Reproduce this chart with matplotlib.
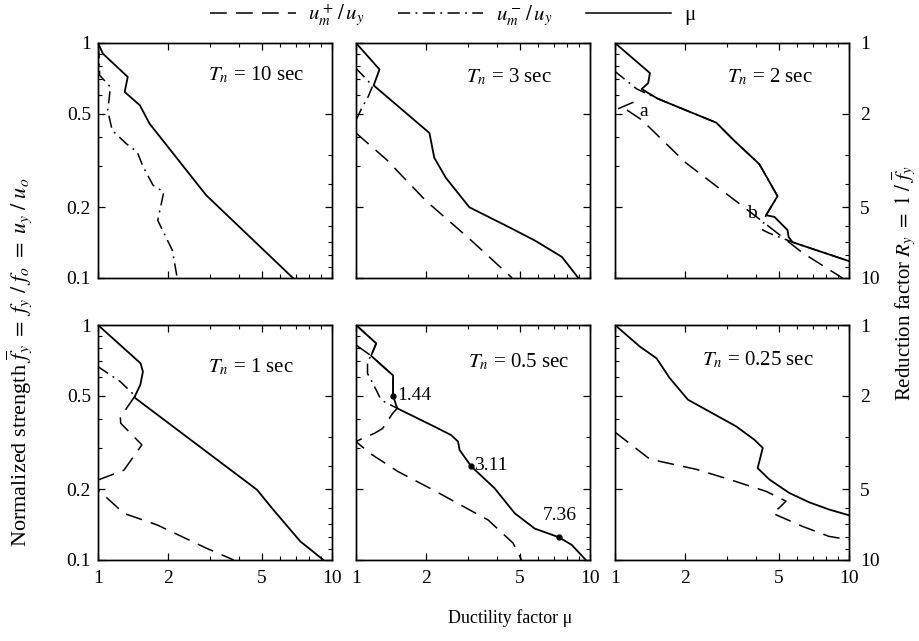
import matplotlib
matplotlib.use("Agg")
import matplotlib.pyplot as plt
from matplotlib.lines import Line2D

plt.rcParams['font.family'] = ['Liberation Serif', 'DejaVu Serif']
plt.rcParams['mathtext.fontset'] = 'stix'

# Data: x = ductility, y = normalized strength fy
# Tn = 10 sec
t10_mu_x = [1.0, 1.05, 1.34, 1.30, 1.51, 1.66, 2.90, 6.81]
t10_mu_y = [1.0, 0.90, 0.717, 0.619, 0.543, 0.454, 0.225, 0.1]
t10_neg_x = [1.0, 1.01, 1.016, 1.13, 1.114, 1.10, 1.15, 1.32, 1.47, 1.56, 1.72, 1.91, 1.80, 2.08, 2.18]
t10_neg_y = [0.97, 0.90, 0.729, 0.65, 0.570, 0.517, 0.425, 0.373, 0.344, 0.297, 0.248, 0.232, 0.176, 0.131, 0.1]
t10_pos_x = []
t10_pos_y = []

# Tn = 3 sec
t3_mu_x = [1.0, 1.26, 1.19, 2.06, 2.16, 2.42, 3.05, 4.65, 5.84, 7.58, 8.92]
t3_mu_y = [1.0, 0.772, 0.66, 0.414, 0.325, 0.267, 0.20, 0.162, 0.144, 0.123, 0.1]
t3_neg_x = [1.0, 1.13, 1.177, 1.13, 1.06, 1.0]
t3_neg_y = [0.78, 0.687, 0.655, 0.594, 0.53, 0.47]
t3_pos_x = [1.0, 1.35, 1.99, 3.05, 4.65]
t3_pos_y = [0.414, 0.319, 0.213, 0.147, 0.1]

# Tn = 2 sec
t2_mu_x = [1.0, 1.41, 1.386, 1.30, 1.52, 2.71, 3.19, 4.14, 4.95, 4.42, 4.80, 5.46, 5.52, 5.74, 10.0]
t2_mu_y = [1.0, 0.745, 0.675, 0.637, 0.58, 0.458, 0.389, 0.305, 0.223, 0.185, 0.182, 0.16, 0.1495, 0.142, 0.118]
t2_neg_x = [1.0, 1.24, 1.52, 2.71, 3.19, 4.14, 4.95, 4.42, 4.30, 4.28, 4.57, 5.74, 10.0]
t2_neg_y = [0.757, 0.637, 0.58, 0.458, 0.389, 0.305, 0.223, 0.185, 0.17, 0.16, 0.155, 0.142, 0.118]
t2_pos_x = [1.2, 1.03, 1.12, 1.30, 2.0, 4.0, 6.33, 9.37]
t2_pos_y = [0.56, 0.525, 0.52, 0.471, 0.31, 0.183, 0.128, 0.1]

# Tn = 1 sec
t1_mu_x = [1.0, 1.52, 1.556, 1.516, 1.43, 4.78, 5.63, 7.32, 9.2]
t1_mu_y = [1.0, 0.687, 0.633, 0.556, 0.492, 0.199, 0.163, 0.12, 0.1]
t1_neg_x = [1.0, 1.246, 1.44]
t1_neg_y = [0.665, 0.574, 0.499]
t1_pos_x = [1.44, 1.246, 1.25, 1.54, 1.29, 1.0, 0.9, 1.0, 1.29, 1.79, 2.92, 3.80]
t1_pos_y = [0.499, 0.405, 0.382, 0.309, 0.241, 0.219, 0.209, 0.199, 0.158, 0.141, 0.112, 0.1]

# Tn = 0.5 sec
t05_mu_x = [1.0, 1.22, 1.16, 1.44, 1.44, 1.50, 2.17, 2.55, 2.73, 2.77, 3.11, 3.91, 4.77, 5.81, 7.36, 8.35, 9.6]
t05_mu_y = [1.0, 0.835, 0.74, 0.61, 0.5, 0.442, 0.369, 0.34, 0.319, 0.294, 0.25, 0.202, 0.158, 0.136, 0.125, 0.116, 0.1]
t05_neg_x = [1.0, 1.22, 1.16, 1.12, 1.12, 1.18, 1.22, 1.26, 1.32, 1.50]
t05_neg_y = [1.0, 0.835, 0.74, 0.698, 0.622, 0.565, 0.529, 0.495, 0.472, 0.442]
t05_pos_x = [1.0, 1.16, 1.44, 1.44, 1.50, 1.435, 1.30, 1.2, 1.07, 1.0, 1.15, 1.51, 2.13, 3.67, 4.69, 5.1]
t05_pos_y = [0.822, 0.74, 0.61, 0.5, 0.442, 0.421, 0.363, 0.346, 0.33, 0.319, 0.284, 0.238, 0.199, 0.148, 0.118, 0.1]
t05_mark_x = [1.44, 3.11, 7.36]
t05_mark_y = [0.5, 0.25, 0.125]

# Tn = 0.25 sec
t025_mu_x = [1.0, 1.278, 1.504, 1.714, 2.05, 2.45, 3.30, 3.94, 4.28, 4.07, 4.57, 5.55, 6.76, 8.22, 10.0]
t025_mu_y = [1.0, 0.809, 0.722, 0.594, 0.481, 0.436, 0.370, 0.325, 0.30, 0.246, 0.22, 0.193, 0.176, 0.164, 0.155]
t025_neg_x = []
t025_neg_y = []
t025_pos_x = [1.0, 1.386, 1.55, 2.23, 3.09, 4.42, 5.38, 5.04, 4.72, 6.33, 8.22, 10.0]
t025_pos_y = [0.35, 0.272, 0.263, 0.243, 0.22, 0.196, 0.178, 0.167, 0.158, 0.139, 0.126, 0.122]

periods = ['10', '3', '2', '1', '0.5', '0.25']
x_ticks = [1, 2, 5, 10]
y_ticks = [0.1, 0.2, 0.5, 1]
r_major = [1, 2, 5, 10]
r_minor = [3, 4, 6, 7, 8, 9]

DASHED = (0, (11, 6))
DASHDOT = (0, (8, 3.5, 1.2, 3.5))
LW = 1.1
TICK_FS = 14

panels = [
    (t10_mu_x, t10_mu_y, t10_pos_x, t10_pos_y, t10_neg_x, t10_neg_y),
    (t3_mu_x, t3_mu_y, t3_pos_x, t3_pos_y, t3_neg_x, t3_neg_y),
    (t2_mu_x, t2_mu_y, t2_pos_x, t2_pos_y, t2_neg_x, t2_neg_y),
    (t1_mu_x, t1_mu_y, t1_pos_x, t1_pos_y, t1_neg_x, t1_neg_y),
    (t05_mu_x, t05_mu_y, t05_pos_x, t05_pos_y, t05_neg_x, t05_neg_y),
    (t025_mu_x, t025_mu_y, t025_pos_x, t025_pos_y, t025_neg_x, t025_neg_y),
]
text_pos = [(0.47, 0.864), (0.47, 0.856), (0.48, 0.857),
            (0.47, 0.823), (0.48, 0.844), (0.37, 0.85)]

W, H = 920, 641
fig = plt.figure(figsize=(9.2, 6.41), dpi=100)
lefts = [98, 356, 615]
tops = [43, 325]
pw, ph = 234, 235

axes = []
for i, (mx, my, px, py, nx, ny) in enumerate(panels):
    row, col = divmod(i, 3)
    ax = fig.add_axes([lefts[col] / W, 1 - (tops[row] + ph) / H, pw / W, ph / H])
    ax.set_xscale('log')
    ax.set_yscale('log')
    if px:
        ax.plot(px, py, color='black', lw=LW, linestyle=DASHED)
    if nx:
        ax.plot(nx, ny, color='black', lw=LW, linestyle=DASHDOT)
    ax.plot(mx, my, color='black', lw=LW + 0.2, solid_joinstyle='round')
    ax.set_xlim(1, 10)
    ax.set_ylim(0.1, 1)

    ax.set_xticks(x_ticks)
    ax.set_xticks([3, 4, 6, 7, 8, 9], minor=True)
    ax.set_yticks(y_ticks)
    ax.set_yticks([0.3, 0.4, 0.6, 0.7, 0.8, 0.9], minor=True)
    ax.tick_params(which='both', direction='in', top=True, right=False, labelsize=TICK_FS)
    ax.tick_params(which='major', length=5, width=0.9)
    ax.tick_params(which='minor', length=3, width=0.8)
    ax.tick_params(axis='x', pad=7)
    ax.tick_params(axis='y', pad=5)
    if row == 1:
        ax.set_xticklabels([str(t) for t in x_ticks])
    else:
        ax.set_xticklabels([])
    ax.set_xticklabels([], minor=True)
    if col == 0:
        ax.set_yticklabels(['0.1', '0.2', '0.5', '1'])
    else:
        ax.set_yticklabels([])
    ax.set_yticklabels([], minor=True)
    for s in ax.spines.values():
        s.set_linewidth(1.0)

    # right side: reduction factor R_y = 1 / fy
    ax2 = ax.twinx()
    ax2.set_yscale('log')
    ax2.set_ylim(0.1, 1)
    ax2.set_yticks([1 / r for r in r_major])
    ax2.set_yticks([1 / r for r in r_minor], minor=True)
    ax2.tick_params(which='both', direction='in', labelsize=TICK_FS, pad=8)
    ax2.tick_params(which='major', length=5, width=0.9)
    ax2.tick_params(which='minor', length=3, width=0.8)
    if col == 2:
        ax2.set_yticklabels([str(r) for r in r_major])
    else:
        ax2.set_yticklabels([])
    ax2.set_yticklabels([], minor=True)
    for s in ax2.spines.values():
        s.set_linewidth(1.0)

    tx, ty = text_pos[i]
    ax.text(tx, ty, r'$T_n$ = ' + periods[i] + ' sec', transform=ax.transAxes,
            fontsize=15, ha='left', va='center')
    axes.append(ax)

# labels on the Tn = 2 sec panel
axes[2].text(1.32, 0.509, 'a', fontsize=14, ha='center', va='center')
axes[2].text(3.83, 0.189, 'b', fontsize=14, ha='center', va='center')

# marked points on the Tn = 0.5 sec panel
ax5 = axes[4]
ax5.plot(t05_mark_x, t05_mark_y, 'o', color='black', ms=3.5)
ax5.annotate('1.44', (t05_mark_x[0], t05_mark_y[0]), xytext=(3, 0),
             textcoords='offset points', fontsize=14, ha='left', va='center')
ax5.annotate('3.11', (t05_mark_x[1], t05_mark_y[1]), xytext=(2, 1),
             textcoords='offset points', fontsize=14, ha='left', va='center')
ax5.annotate('7.36', (t05_mark_x[2], t05_mark_y[2]), xytext=(1, 16),
             textcoords='offset points', fontsize=14, ha='center', va='center')

# legend across the top
handles = [
    Line2D([], [], color='black', lw=LW, linestyle=DASHED),
    Line2D([], [], color='black', lw=LW, linestyle=DASHDOT),
    Line2D([], [], color='black', lw=LW),
]
labels = [r'$u_m^+\,/\,u_y$', r'$u_m^-\,/\,u_y$', 'μ']
fig.legend(handles, labels, loc='center', bbox_to_anchor=(0.492, 0.976), ncol=3,
           frameon=False, fontsize=15, handlelength=4.1, handletextpad=0.6,
           columnspacing=1.6)

fig.text(0.021, 1 - 362 / H,
         r'Normalized strength $\overline{f}_y\ =\ f_y\ /\ f_o\ =\ u_y\ /\ u_o$',
         rotation=90, ha='center', va='center', fontsize=16)
fig.text(0.983, 1 - 283 / H, r'Reduction factor $R_y\ =\ 1\ /\ \overline{f}_y$',
         rotation=90, ha='center', va='center', fontsize=15)
fig.text(510 / W, 1 - 618 / H, 'Ductility factor μ', ha='center', va='center', fontsize=13)

fig.savefig('out.png', dpi=100)
